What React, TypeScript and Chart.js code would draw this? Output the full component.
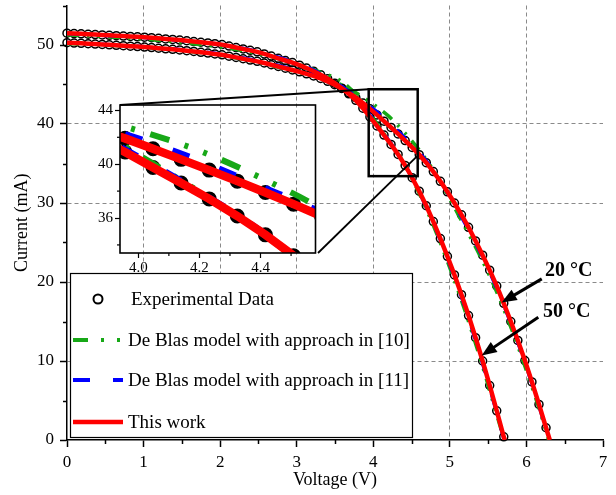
import React, { useEffect, useRef } from 'react';
import { Chart, registerables } from 'chart.js';

Chart.register(...registerables);

const FONT = '"Liberation Serif", "Times New Roman", serif';

// ---- data ----
const voltage = [0, 0.092, 0.184, 0.276, 0.368, 0.46, 0.552, 0.644, 0.736, 0.828, 0.92, 1.012, 1.104, 1.196, 1.288, 1.38, 1.472, 1.564, 1.656, 1.748, 1.84, 1.932, 2.024, 2.116, 2.208, 2.3, 2.392, 2.484, 2.576, 2.668, 2.76, 2.852, 2.944, 3.036, 3.128, 3.22, 3.312, 3.404, 3.496, 3.588, 3.68, 3.772, 3.864, 3.956, 4.048, 4.14, 4.232, 4.324, 4.416, 4.508, 4.6, 4.692, 4.784, 4.876, 4.968, 5.06, 5.152, 5.244, 5.336, 5.428, 5.52, 5.612, 5.704, 5.796, 5.888, 5.98, 6.072, 6.164, 6.256];

const current20 = [
  50.30, 50.25, 50.21, 50.16, 50.12, 50.07, 50.02, 49.96, 49.91, 49.85,
  49.80, 49.74, 49.67, 49.59, 49.52, 49.45, 49.37, 49.28, 49.18, 49.08,
  48.98, 48.87, 48.76, 48.59, 48.43, 48.26, 48.09, 47.93, 47.72, 47.50,
  47.28, 47.06, 46.84, 46.60, 46.35, 46.08, 45.76, 45.40, 44.98, 44.50,
  43.95, 43.33, 42.65, 41.92, 41.15, 40.36, 39.56, 38.74, 37.90, 37.03,
  36.12, 35.10, 33.98, 32.75, 31.42, 30.00, 28.50, 26.92, 25.20, 23.40,
  21.50, 19.50, 17.30, 15.00, 12.60, 10.05, 7.35, 4.50, 1.55,
];

const current50 = [
  51.50, 51.45, 51.41, 51.36, 51.32, 51.27, 51.22, 51.18, 51.13, 51.09,
  51.04, 50.99, 50.92, 50.84, 50.77, 50.70, 50.62, 50.54, 50.44, 50.35,
  50.26, 50.17, 50.05, 49.87, 49.68, 49.50, 49.32, 49.13, 48.87, 48.60,
  48.32, 48.04, 47.77, 47.45, 47.08, 46.68, 46.24, 45.74, 45.17, 44.53,
  43.82, 43.00, 42.00, 40.90, 39.75, 38.60, 37.42, 36.15, 34.75, 33.20,
  31.50, 29.65, 27.65, 25.50, 23.25, 20.90, 18.40, 15.75, 12.95, 10.00,
  6.90, 3.70, 0.40,
];

const voc20 = 6.305;
const voc50 = 5.716;

const modelVoltage20 = [0, 0.5, 1, 1.5, 2, 2.5, 3, 3.3, 3.6, 3.8, 4, 4.2, 4.4, 4.6, 4.8, 5, 5.2, 5.4, 5.6, 5.8, 6, 6.2, 6.29];
const deBlas10_20 = [50.2, 50.0, 49.7, 49.3, 48.7, 47.8, 46.6, 45.9, 44.9, 43.8, 42.5, 41.0, 39.0, 36.7, 33.9, 30.5, 26.9, 23.2, 19.0, 14.2, 8.8, 2.9, 0];
const deBlas11_20 = [50.3, 50.07, 49.78, 49.4, 48.85, 47.98, 46.8, 45.95, 44.65, 43.3, 41.9, 40.25, 38.35, 36.4, 33.9, 30.8, 27.4, 23.7, 19.5, 14.7, 9.25, 3.2, 0.1];

const modelVoltage50 = [0, 0.5, 1, 1.5, 2, 2.5, 3, 3.3, 3.6, 3.8, 4, 4.2, 4.4, 4.6, 4.8, 5, 5.2, 5.4, 5.6, 5.71];
const deBlas10_50 = [51.3, 51.05, 50.75, 50.3, 49.75, 48.9, 47.6, 46.6, 45.3, 43.4, 40.7, 37.95, 35.0, 31.2, 26.8, 21.8, 16.3, 10.2, 3.6, 0];
const deBlas11_50 = [51.45, 51.22, 50.95, 50.57, 50.08, 49.15, 47.7, 46.45, 44.65, 42.95, 40.55, 37.95, 35.05, 31.4, 27.1, 22.2, 16.75, 10.6, 3.9, 0];

const xTicks = [0, 1, 2, 3, 4, 5, 6, 7];
const xMinorTicks = [0.5, 1.5, 2.5, 3.5, 4.5, 5.5, 6.5];
const xGridValues = [1, 2, 3, 4, 5, 6];
const yTicks = [0, 10, 20, 30, 40, 50];
const yMinorTicks = [5, 15, 25, 35, 45, 55];
const yGridValues = [10, 20, 30, 40];

const insetXRange = [3.94, 4.58];
const insetYRange = [33.4, 44.4];
const insetXTicks = [4.0, 4.2, 4.4];
const insetXMinorTicks = [4.1, 4.3, 4.5];
const insetYTicks = [36, 40, 44];
const insetYMinorTicks = [34, 38, 42];
const connectorCurrent = 36;

const legendLabels = [
  'Experimental Data',
  'De Blas model with approach in [10]',
  'De Blas model with approach in [11]',
  'This work',
];

const annotationLabels = ['20 °C', '50 °C'];
const annotationTips = [[5.677, 17.4], [5.416, 10.7]];
const annotationTails = [[6.2, 20.4], [6.155, 15.55]];
const annotationTextPos = [[6.243, 21.45], [6.217, 16.27]];

// ---- styles ----
const RED = '#ff0000';
const BLUE = '#0000ff';
const GREEN = '#17a817';
const GRID = '#8a8a8a';

type Style = {
  red: number; blue: number; green: number; blueDash: number[]; greenDash: number[];
  r: number; rw: number;
};

const mainStyle: Style = { red: 4.5, blue: 3.6, green: 3.6, blueDash: [13, 22], greenDash: [12, 8, 2.5, 8, 2.5, 8], r: 4, rw: 1.5 };
const insetStyle: Style = { red: 8.5, blue: 6.5, green: 6, blueDash: [18, 32], greenDash: [20, 16, 4, 16, 4, 16], r: 5.5, rw: 4 };

const toPoints = (xs: number[], ys: number[]) => ys.map((v, i) => ({ x: xs[i], y: v }));

function buildDatasets(s: Style, expClip: number) {
  const fit = (xs: number[], ys: number[], voc: number) => [...toPoints(xs, ys), { x: voc, y: 0 }];
  const line = (data: any[], color: string, width: number, dash: number[], order: number, mono: boolean) => ({
    data, showLine: true, borderColor: color, borderWidth: width, borderDash: dash, borderCapStyle: 'butt',
    pointRadius: 0, pointHoverRadius: 0, order, fill: false,
    cubicInterpolationMode: mono ? 'monotone' : 'default', tension: 0,
  });
  const exp = (data: any[]) => ({
    data, showLine: false, pointRadius: s.r, pointHoverRadius: s.r, pointStyle: 'circle',
    pointBorderColor: '#000', pointBackgroundColor: 'rgba(0,0,0,0)', pointBorderWidth: s.rw,
    order: 3, clip: expClip,
  });
  return [
    line(fit(voltage, current20, voc20), RED, s.red, [], 0, false),
    line(fit(voltage, current50, voc50), RED, s.red, [], 0, false),
    line(toPoints(modelVoltage20, deBlas11_20), BLUE, s.blue, s.blueDash, 1, true),
    line(toPoints(modelVoltage50, deBlas11_50), BLUE, s.blue, s.blueDash, 1, true),
    line(toPoints(modelVoltage20, deBlas10_20), GREEN, s.green, s.greenDash, 2, true),
    line(toPoints(modelVoltage50, deBlas10_50), GREEN, s.green, s.greenDash, 2, true),
    exp(toPoints(voltage, current20)),
    exp(toPoints(voltage, current50)),
  ];
}

const zeroPad = (a: any) => {
  a.paddingTop = 0; a.paddingBottom = 0; a.paddingLeft = 0; a.paddingRight = 0;
};

// ---- layout constants (pixels) ----
const INSET_CANVAS = { left: 85, top: 95, width: 240, height: 190 };
const INSET_BOX = { left: 120, top: 105, right: 318, bottom: 253 };
const LEGEND_BOX = { left: 70, top: 273, right: 412, bottom: 437 };
const LEGEND_ROWS = [299, 340, 380, 422];

function drawArrow(ctx: CanvasRenderingContext2D, x1: number, y1: number, x2: number, y2: number) {
  const ang = Math.atan2(y2 - y1, x2 - x1);
  const hl = 15, hw = 6;
  const c = Math.cos(ang), s = Math.sin(ang);
  const bx = x2 - hl * c, by = y2 - hl * s;
  ctx.beginPath();
  ctx.moveTo(x1, y1);
  ctx.lineTo(bx + c, by + s);
  ctx.lineWidth = 3;
  ctx.strokeStyle = '#000';
  ctx.stroke();
  ctx.beginPath();
  ctx.moveTo(x2, y2);
  ctx.lineTo(bx + hw * s, by - hw * c);
  ctx.lineTo(bx - hw * s, by + hw * c);
  ctx.closePath();
  ctx.fillStyle = '#000';
  ctx.fill();
}

const mainDecor = {
  id: 'mainDecor',
  afterDraw(chart: any) {
    const { ctx } = chart;
    const x = chart.scales.x;
    const y = chart.scales.y;
    const area = chart.chartArea;
    ctx.save();
    // minor ticks
    ctx.strokeStyle = '#000';
    ctx.lineWidth = 1.5;
    ctx.setLineDash([]);
    for (const v of xMinorTicks) {
      const px = Math.round(x.getPixelForValue(v)) + 0.5;
      ctx.beginPath(); ctx.moveTo(px, area.bottom); ctx.lineTo(px, area.bottom + 4); ctx.stroke();
    }
    for (const v of yMinorTicks) {
      const py = Math.round(y.getPixelForValue(v)) + 0.5;
      ctx.beginPath(); ctx.moveTo(area.left - 4, py); ctx.lineTo(area.left, py); ctx.stroke();
    }
    // zoom rectangle
    const rx1 = x.getPixelForValue(insetXRange[0]);
    const rx2 = x.getPixelForValue(insetXRange[1]);
    const ry1 = y.getPixelForValue(insetYRange[1]);
    const ry2 = y.getPixelForValue(insetYRange[0]);
    ctx.lineWidth = 2.5;
    ctx.strokeRect(rx1, ry1, rx2 - rx1, ry2 - ry1);
    // connectors
    ctx.lineWidth = 1.8;
    ctx.beginPath();
    ctx.moveTo(INSET_BOX.left, INSET_BOX.top);
    ctx.lineTo(rx1, ry1);
    ctx.stroke();
    ctx.beginPath();
    ctx.moveTo(INSET_BOX.right, INSET_BOX.bottom);
    ctx.lineTo(rx2, y.getPixelForValue(connectorCurrent));
    ctx.stroke();

    // legend
    const L = LEGEND_BOX;
    ctx.fillStyle = '#fff';
    ctx.fillRect(L.left, L.top, L.right - L.left, L.bottom - L.top);
    ctx.lineWidth = 1.2;
    ctx.strokeStyle = '#000';
    ctx.strokeRect(L.left + 0.5, L.top + 0.5, L.right - L.left, L.bottom - L.top);
    const sx1 = 73, sx2 = 123;
    ctx.beginPath();
    ctx.arc(98, LEGEND_ROWS[0], 4.5, 0, Math.PI * 2);
    ctx.lineWidth = 2;
    ctx.stroke();
    const sample = (row: number, color: string, width: number, dash: number[]) => {
      ctx.beginPath();
      ctx.setLineDash(dash);
      ctx.lineCap = 'butt';
      ctx.strokeStyle = color;
      ctx.lineWidth = width;
      ctx.moveTo(sx1, LEGEND_ROWS[row]);
      ctx.lineTo(sx2, LEGEND_ROWS[row]);
      ctx.stroke();
      ctx.setLineDash([]);
    };
    sample(1, GREEN, 4, [15, 13, 3, 13, 3, 13]);
    sample(2, BLUE, 4, [17, 23]);
    sample(3, RED, 4.5, []);
    ctx.fillStyle = '#000';
    ctx.font = `19px ${FONT}`;
    ctx.textBaseline = 'middle';
    ctx.textAlign = 'left';
    legendLabels.forEach((t, i) => {
      ctx.fillText(t, i === 0 ? 131 : 128, LEGEND_ROWS[i] + 1);
    });

    // annotations
    annotationLabels.forEach((t, i) => {
      const tx = x.getPixelForValue(annotationTips[i][0]);
      const ty = y.getPixelForValue(annotationTips[i][1]);
      const sx = x.getPixelForValue(annotationTails[i][0]);
      const sy = y.getPixelForValue(annotationTails[i][1]);
      drawArrow(ctx, sx, sy, tx, ty);
      ctx.fillStyle = '#000';
      ctx.font = `bold 20px ${FONT}`;
      ctx.textBaseline = 'middle';
      ctx.textAlign = 'left';
      ctx.fillText(t, x.getPixelForValue(annotationTextPos[i][0]), y.getPixelForValue(annotationTextPos[i][1]));
    });
    ctx.restore();
  },
};

const insetDecor = {
  id: 'insetDecor',
  afterDraw(chart: any) {
    const { ctx } = chart;
    const x = chart.scales.x;
    const y = chart.scales.y;
    const a = chart.chartArea;
    ctx.save();
    ctx.strokeStyle = '#000';
    ctx.setLineDash([]);
    ctx.lineWidth = 1.2;
    for (const v of insetXMinorTicks) {
      const px = x.getPixelForValue(v);
      ctx.beginPath(); ctx.moveTo(px, a.bottom); ctx.lineTo(px, a.bottom + 3); ctx.stroke();
    }
    for (const v of insetYMinorTicks) {
      const py = y.getPixelForValue(v);
      ctx.beginPath(); ctx.moveTo(a.left - 3, py); ctx.lineTo(a.left, py); ctx.stroke();
    }
    ctx.lineWidth = 1.6;
    ctx.strokeRect(a.left, a.top, a.right - a.left, a.bottom - a.top);
    ctx.restore();
  },
};

function mainConfig(): any {
  return {
    type: 'scatter',
    data: { datasets: buildDatasets(mainStyle, 5) },
    options: {
      responsive: false,
      animation: false,
      devicePixelRatio: 1,
      events: [],
      layout: { padding: { left: 0, top: 4, right: 13, bottom: 0 } },
      plugins: { legend: { display: false }, tooltip: { enabled: false } },
      scales: {
        x: {
          type: 'linear', min: 0, max: 7,
          afterBuildTicks: (a: any) => { a.ticks = xTicks.map((v) => ({ value: v })); },
          afterFit: (a: any) => { a.height = 55; zeroPad(a); },
          ticks: { font: { family: FONT, size: 17 }, color: '#000', padding: 5, maxRotation: 0, autoSkip: false, callback: (v: any) => String(v) },
          grid: {
            color: (c: any) => (c.tick && xGridValues.includes(c.tick.value) ? GRID : 'rgba(0,0,0,0)'),
            lineWidth: 1, tickLength: 7, tickWidth: 1.5, tickColor: '#000',
          },
          border: { color: '#000', width: 1.5, dash: [4, 3] },
          title: { display: true, text: 'Voltage (V)', font: { family: FONT, size: 18 }, color: '#000', padding: { top: 0, bottom: 4 } },
        },
        y: {
          type: 'linear', min: 0, max: 55,
          afterBuildTicks: (a: any) => { a.ticks = yTicks.map((v) => ({ value: v })); },
          afterFit: (a: any) => { a.width = 67; zeroPad(a); },
          ticks: { font: { family: FONT, size: 17 }, color: '#000', padding: 6, autoSkip: false, callback: (v: any) => String(v) },
          grid: {
            color: (c: any) => (c.tick && yGridValues.includes(c.tick.value) ? GRID : 'rgba(0,0,0,0)'),
            lineWidth: 1, tickLength: 7, tickWidth: 1.5, tickColor: '#000',
          },
          border: { color: '#000', width: 1.5, dash: [4, 3] },
          title: { display: true, text: 'Current (mA)', font: { family: FONT, size: 18 }, color: '#000', padding: { top: 11, bottom: 0 } },
        },
      },
    },
    plugins: [mainDecor],
  };
}

function insetConfig(): any {
  const C = INSET_CANVAS;
  const B = INSET_BOX;
  return {
    type: 'scatter',
    data: { datasets: buildDatasets(insetStyle, 0) },
    options: {
      responsive: false,
      animation: false,
      devicePixelRatio: 1,
      events: [],
      layout: { padding: { left: 0, top: B.top - C.top, right: C.left + C.width - B.right, bottom: 0 } },
      plugins: { legend: { display: false }, tooltip: { enabled: false } },
      scales: {
        x: {
          type: 'linear', min: insetXRange[0], max: insetXRange[1],
          afterBuildTicks: (a: any) => { a.ticks = insetXTicks.map((v) => ({ value: v })); },
          afterFit: (a: any) => { a.height = C.top + C.height - B.bottom; zeroPad(a); },
          ticks: { font: { family: FONT, size: 15 }, color: '#000', padding: 1, maxRotation: 0, autoSkip: false, callback: (v: any) => Number(v).toFixed(1) },
          grid: { drawOnChartArea: false, tickLength: 5, tickWidth: 1.2, tickColor: '#000' },
          border: { display: false },
        },
        y: {
          type: 'linear', min: insetYRange[0], max: insetYRange[1],
          afterBuildTicks: (a: any) => { a.ticks = insetYTicks.map((v) => ({ value: v })); },
          afterFit: (a: any) => { a.width = B.left - C.left; zeroPad(a); },
          ticks: { font: { family: FONT, size: 15 }, color: '#000', padding: 2, autoSkip: false, callback: (v: any) => String(v) },
          grid: { drawOnChartArea: false, tickLength: 5, tickWidth: 1.2, tickColor: '#000' },
          border: { display: false },
        },
      },
    },
    plugins: [insetDecor],
  };
}

export default function App() {
  const mainRef = useRef<HTMLCanvasElement>(null);
  const insetRef = useRef<HTMLCanvasElement>(null);
  useEffect(() => {
    const main = new Chart(mainRef.current as HTMLCanvasElement, mainConfig());
    const inset = new Chart(insetRef.current as HTMLCanvasElement, insetConfig());
    return () => {
      main.destroy();
      inset.destroy();
    };
  }, []);
  const C = INSET_CANVAS;
  return (
    <div style={{ position: 'absolute', left: 0, top: 0, width: 616, height: 495, background: '#fff' }}>
      <canvas ref={mainRef} width={616} height={495} style={{ position: 'absolute', left: 0, top: 0, width: 616, height: 495 }} />
      <canvas ref={insetRef} width={C.width} height={C.height} style={{ position: 'absolute', left: C.left, top: C.top, width: C.width, height: C.height }} />
    </div>
  );
}
